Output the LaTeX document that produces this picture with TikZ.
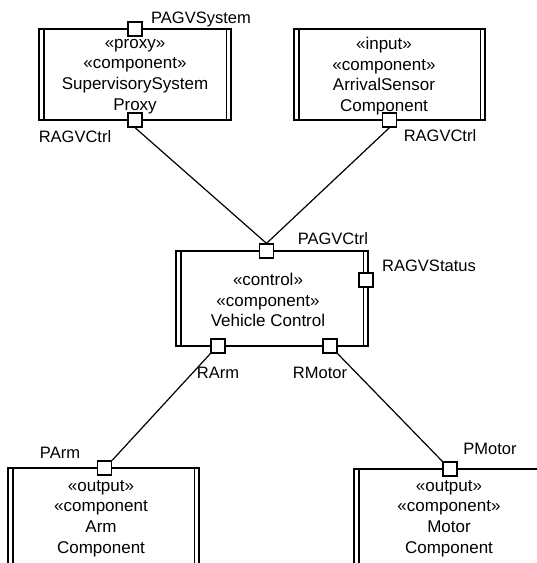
\documentclass[tikz,border=0pt]{standalone}
\usepackage{fontspec}
\setmainfont{Liberation Sans}
\begin{document}
\begin{tikzpicture}[x=1pt,y=-1pt,
  comp/.style={draw, line width=1.5pt, inner sep=0pt},
  bar/.style={line width=1.5pt},
  port/.style={draw, fill=white, line width=1.3pt, minimum size=14pt, inner sep=0pt},
  conn/.style={line width=1.2pt},
  txt/.style={align=center, inner sep=0pt, font=\fontsize{17}{20.7}\selectfont},
  lbl/.style={anchor=base, inner sep=0pt, font=\fontsize{16.5}{20}\selectfont}]
\useasboundingbox (0,0) rectangle (537,563);
\clip (0,0) rectangle (537,563);
% component boxes
\node[comp, minimum width=192pt, minimum height=91pt] (sup) at (135,74.5) {};
\node[comp, minimum width=191pt, minimum height=91pt] (arr) at (389.5,74.5) {};
\node[comp, minimum width=192pt, minimum height=95pt] (veh) at (272,298.5) {};
\node[comp, minimum width=191pt, minimum height=120pt] (arm) at (103.5,528) {};
\node[comp, minimum width=192pt, minimum height=120pt] (mot) at (450,529) {};
\foreach \b in {sup,arr,veh,arm,mot}{
  \draw[bar] ([xshift=5.5pt]\b.north west) -- ([xshift=5.5pt]\b.south west);
  \draw[bar] ([xshift=-5.5pt]\b.north east) -- ([xshift=-5.5pt]\b.south east);
}
% texts
\node[txt] (suptxt) at (135,76.5) {«proxy»\\«component»\\SupervisorySystem\\Proxy};
\node[txt] (arrtxt) at (384,76) {«input»\\«component»\\ArrivalSensor\\Component};
\node[txt] (vehtxt) at (268,300) {«control»\\«component»\\Vehicle Control};
\node[txt] (armtxt) at (101,518.5) {«output»\\«component\\Arm\\Component};
\node[txt] (mottxt) at (449,518.5) {«output»\\«component»\\Motor\\Component};
% ports
\node[port] (pSys) at (135,29) {};
\node[port] (supR) at (135,120) {};
\node[port] (arrR) at (389.5,120) {};
\node[port] (vehP) at (266.5,251) {};
\node[port] (vehS) at (366,280) {};
\node[port] (vehA) at (218,346) {};
\node[port] (vehM) at (330,346) {};
\node[port] (armP) at (104.5,468) {};
\node[port] (motP) at (450,469) {};
% connectors
\draw[conn] (supR.south) -- (vehP.north);
\draw[conn] (arrR.south) -- (vehP.north);
\draw[conn] (vehA.south west) -- (armP.north east);
\draw[conn] (vehM.south east) -- (motP.north west);
% labels
\node[lbl] (lSys) at (201,23) {PAGVSystem};
\node[lbl] (lSupR) at (75,142) {RAGVCtrl};
\node[lbl] (lArrR) at (440,141) {RAGVCtrl};
\node[lbl] (lVehP) at (333,244) {PAGVCtrl};
\node[lbl] (lVehS) at (429,271) {RAGVStatus};
\node[lbl] (lVehA) at (218,378) {RArm};
\node[lbl] (lVehM) at (320,378) {RMotor};
\node[lbl] (lArmP) at (60,458) {PArm};
\node[lbl] (lMotP) at (490,454) {PMotor};
\end{tikzpicture}
\end{document}
